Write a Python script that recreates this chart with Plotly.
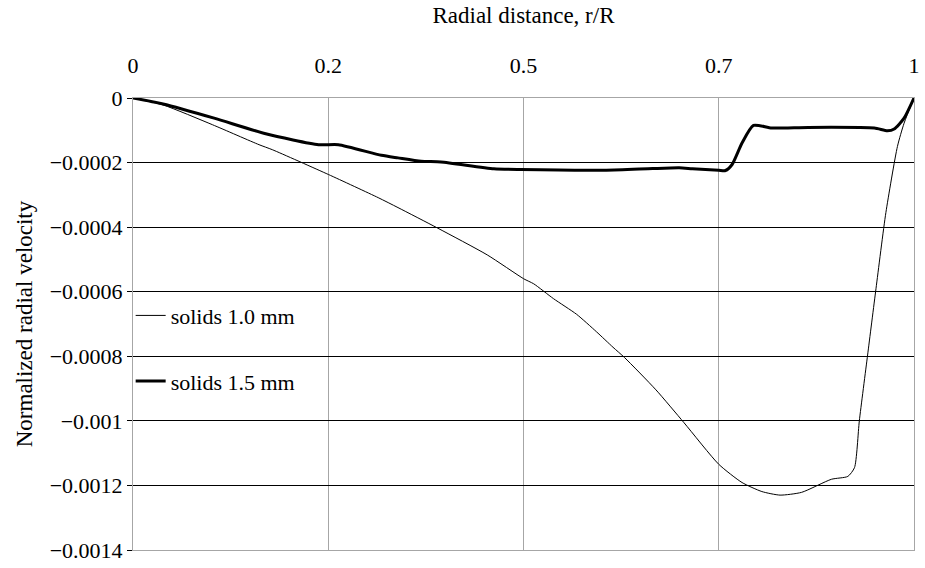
import plotly.graph_objects as go

# Data (position along r/R axis, normalized radial velocity)
x_thin = [0.0, 0.0385, 0.102, 0.1614, 0.1783, 0.2503, 0.3139, 0.3393, 0.3901, 0.4536,
          0.5003, 0.513, 0.5384, 0.568, 0.5934, 0.6146, 0.6294, 0.6696, 0.7056, 0.75,
          0.7798, 0.8052, 0.8285, 0.856, 0.8942, 0.9153, 0.9238, 0.93, 0.9406, 0.9513,
          0.964, 0.9788, 0.9873, 1.0]
v_thin = [0.0, -2.15e-5, -8.3e-5, -1.446e-4, -1.6e-4, -2.37e-4, -3.086e-4, -3.394e-4, -4.03e-4, -4.86e-4,
          -5.6e-4, -5.754e-4, -6.215e-4, -6.7e-4, -7.24e-4, -7.72e-4, -8.04e-4, -9.04e-4, -1.006e-3, -1.1345e-3,
          -1.191e-3, -1.219e-3, -1.23e-3, -1.2215e-3, -1.181e-3, -1.172e-3, -1.145e-3, -1.0e-3, -7.96e-4, -5.91e-4,
          -3.55e-4, -1.5e-4, -7.8e-5, 0.0]

x_thick = [0.0, 0.0385, 0.1039, 0.1699, 0.2376, 0.263, 0.318, 0.3393, 0.3689, 0.3943,
           0.4621, 0.496, 0.606, 0.6654, 0.6993, 0.7163, 0.75, 0.7586, 0.7671, 0.7798,
           0.7945, 0.8179, 0.8644, 0.9492, 0.966, 0.9746, 0.9873, 1.0]
v_thick = [0.0, -1.85e-5, -6.25e-5, -1.108e-4, -1.446e-4, -1.446e-4, -1.775e-4, -1.855e-4, -1.96e-4, -1.98e-4,
           -2.19e-4, -2.215e-4, -2.237e-4, -2.185e-4, -2.163e-4, -2.19e-4, -2.237e-4, -2.246e-4, -2.06e-4, -1.394e-4,
           -8.5e-5, -9.3e-5, -9.1e-5, -9.3e-5, -1.015e-4, -9.6e-5, -6.25e-5, 0.0]

x_tickvals = [0, 0.25, 0.5, 0.75, 1]
x_ticktext = ["0", "0.2", "0.5", "0.7", "1"]
y_tickvals = [0, -0.0002, -0.0004, -0.0006, -0.0008, -0.001, -0.0012, -0.0014]
y_ticktext = ["0", "\u22120.0002", "\u22120.0004", "\u22120.0006", "\u22120.0008",
              "\u22120.001", "\u22120.0012", "\u22120.0014"]

FONT = "Liberation Serif, Times New Roman, serif"

fig = go.Figure()
fig.add_trace(go.Scatter(x=x_thin, y=v_thin, mode="lines", name="solids 1.0 mm",
                         legendgroup="a", line=dict(color="black", width=1, shape="spline", smoothing=0.6)))
fig.add_trace(go.Scatter(x=x_thick, y=v_thick, mode="lines", name="solids 1.5 mm",
                         legendgroup="b", line=dict(color="black", width=3, shape="spline", smoothing=0.6)))

fig.update_layout(
    width=925, height=568,
    margin=dict(l=133, r=5, t=98, b=15),
    paper_bgcolor="white", plot_bgcolor="white",
    font=dict(family=FONT, size=22, color="black"),
    showlegend=True,
    legend=dict(x=-0.003, xanchor="left", y=0.565, yanchor="top",
                bgcolor="rgba(0,0,0,0)", tracegroupgap=34, traceorder="grouped",
                itemwidth=30, font=dict(size=22)),
    xaxis=dict(side="top", range=[0, 1], tickvals=x_tickvals, ticktext=x_ticktext,
               showgrid=True, gridcolor="#a6a6a6", gridwidth=1,
               showline=True, linecolor="#a6a6a6", linewidth=1, mirror=True,
               ticks="outside", ticklen=15, tickcolor="rgba(0,0,0,0)",
               zeroline=False,
               title=dict(text="Radial distance, r/R", standoff=23, font=dict(size=23))),
    yaxis=dict(range=[-0.0014, 0], tickvals=y_tickvals, ticktext=y_ticktext,
               showgrid=True, gridcolor="black", gridwidth=1,
               showline=True, linecolor="#a6a6a6", linewidth=1, mirror=True,
               ticks="outside", ticklen=5, tickcolor="black",
               zeroline=False,
               title=dict(text="Normalized radial velocity", standoff=10, font=dict(size=23))),
)

fig.write_html("out.html")
